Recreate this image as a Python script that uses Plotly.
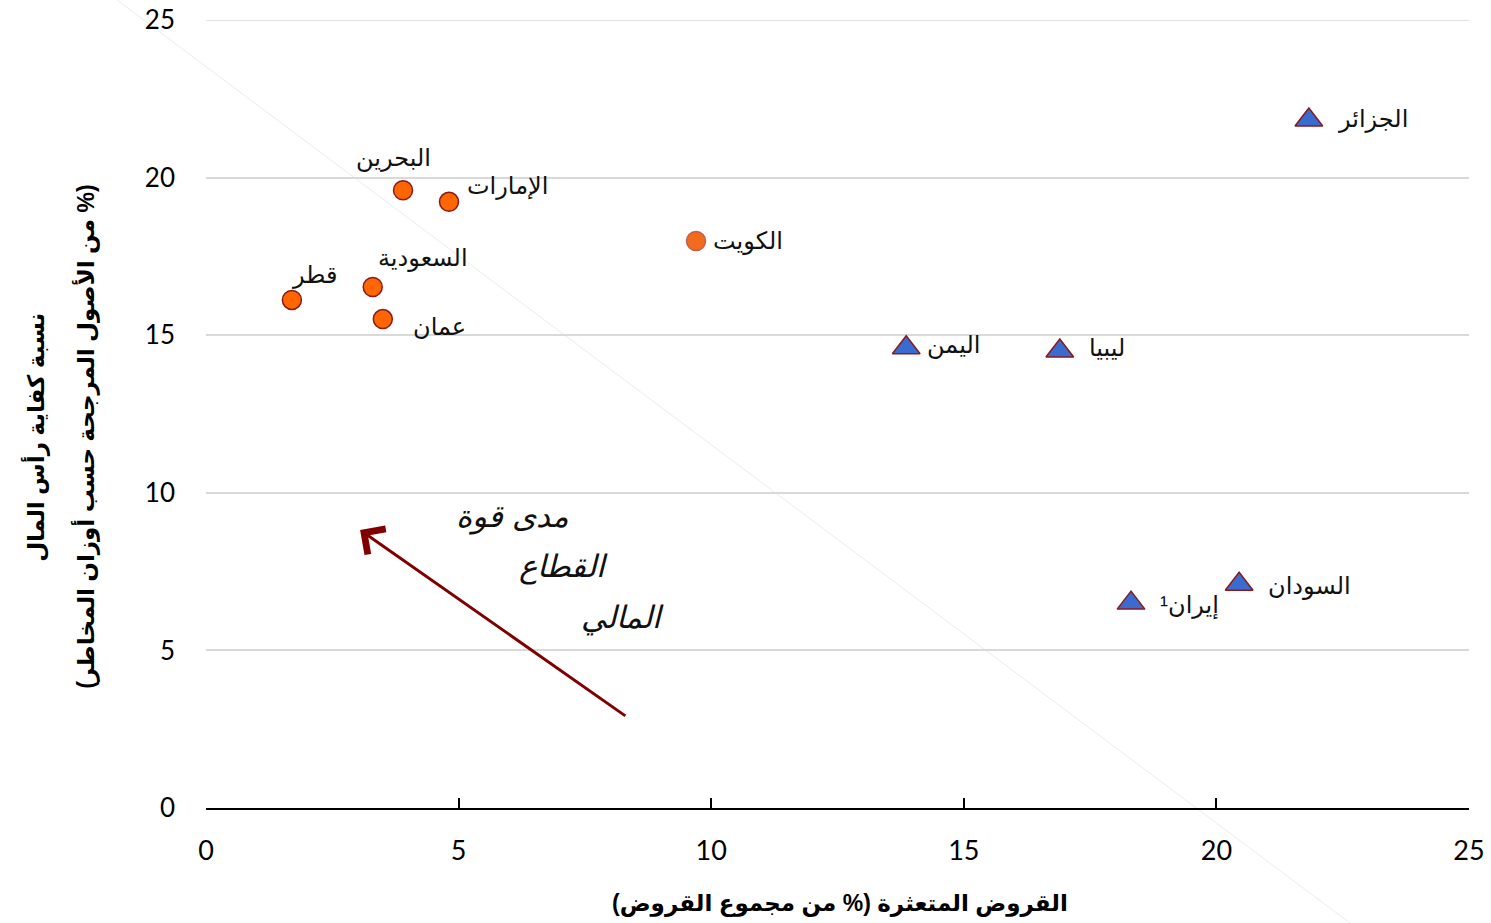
import plotly.graph_objects as go

# --- data ---
gcc_names = ["البحرين", "الإمارات", "السعودية", "قطر", "عمان", "الكويت"]
gcc_npl = [3.9, 4.81, 3.3, 1.7, 3.5, 9.7]
gcc_car = [19.6, 19.23, 16.53, 16.12, 15.51, 17.99]

oth_names = ["الجزائر", "السودان", "إيران¹", "ليبيا", "اليمن"]
oth_npl = [21.83, 20.45, 18.31, 16.9, 13.86]
oth_car = [21.83, 7.1, 6.5, 14.5, 14.6]

x_ticks = [0, 5, 10, 15, 20, 25]
y_ticks = [0, 5, 10, 15, 20, 25]

x_title = "القروض المتعثرة (% من مجموع القروض)"
y_title_1 = "نسبة كفاية رأس المال"
y_title_2 = "(% من الأصول المرجحة حسب أوزان المخاطر)"

arrow_from = (8.33, 2.89)
arrow_to = (3.05, 8.82)
arrow_text = ["مدى قوة", "القطاع", "المالي"]
arrow_text_pos = [(6.06, 9.23), (7.07, 7.65), (8.25, 6.03)]

RLE, PDF = "\u202b", "\u202c"


def rtl(s):
    return RLE + s + PDF


# label offsets (pixels): (xanchor, xshift, yshift)
gcc_label_off = [("center", -10, 32), ("left", 16, 16), ("center", 50, 29),
                 ("center", 23, 25), ("center", 57, -7), ("left", 15, 0)]
oth_label_off = [("left", 27, 1), ("left", 27, -2), ("left", 27, -2),
                 ("left", 27, 3), ("left", 19, 3)]

fig = go.Figure()

gcc_fill = ["#FF6600"] * 5 + ["#F26A1B"]
gcc_line = ["#8B1A1A"] * 5 + ["#C0604D"]

fig.add_trace(go.Scatter(
    x=gcc_npl, y=gcc_car, mode="markers",
    marker=dict(symbol="circle", size=19, color=gcc_fill,
                line=dict(color=gcc_line, width=1.5)),
    showlegend=False, hoverinfo="skip"))

fig.add_trace(go.Scatter(
    x=oth_npl, y=oth_car, mode="markers",
    marker=dict(symbol="triangle-up", size=24, color="#3A6BD0",
                line=dict(color="#8B1A1A", width=1.5)),
    showlegend=False, hoverinfo="skip"))

AR = "Arial, Liberation Sans, DejaVu Sans"
label_font = dict(family=AR, size=24, color="#111111")
ann = []
for names, xs, ys, offs in [(gcc_names, gcc_npl, gcc_car, gcc_label_off),
                            (oth_names, oth_npl, oth_car, oth_label_off)]:
    for n, x, y, (xa, dx, dy) in zip(names, xs, ys, offs):
        ann.append(dict(x=x, y=y, xref="x", yref="y", text=n, showarrow=False,
                        xanchor=xa, yanchor="middle", xshift=dx, yshift=dy,
                        font=label_font))

# arrow
ann.append(dict(x=arrow_to[0], y=arrow_to[1], ax=arrow_from[0], ay=arrow_from[1],
                xref="x", yref="y", axref="x", ayref="y", text="",
                showarrow=True, arrowhead=4, arrowsize=2.0, arrowwidth=3,
                arrowcolor="#800000"))
for t, (tx, ty) in zip(arrow_text, arrow_text_pos):
    ann.append(dict(x=tx, y=ty, xref="x", yref="y", text="<i>" + t + "</i>",
                    showarrow=False, xanchor="center", yanchor="middle",
                    font=dict(family=AR, size=31, color="#111111")))

# axis titles
title_font = dict(family=AR, size=23, color="black")
ann.append(dict(x=0.502, y=-0.1206, xref="paper", yref="paper",
                text="<b>" + rtl(x_title) + "</b>", showarrow=False,
                xanchor="center", yanchor="middle", font=title_font))
ann.append(dict(x=-0.1354, y=0.471, xref="paper", yref="paper",
                text="<b>" + rtl(y_title_1) + "</b>", showarrow=False, textangle=-90,
                xanchor="center", yanchor="middle", font=title_font))
ann.append(dict(x=-0.0958, y=0.471, xref="paper", yref="paper",
                text="<b>" + rtl(y_title_2) + "</b>", showarrow=False, textangle=-90,
                xanchor="center", yanchor="middle", font=title_font))

shapes = [dict(type="line", xref="paper", yref="paper",
               x0=(117 - 206) / 1263, y0=(808 - 0) / 788,
               x1=(1350 - 206) / 1263, y1=(808 - 923) / 788,
               line=dict(color="#E8EEE8", width=1), layer="below"),
          # top gridline (plotly drops gridlines lying on the plot edge)
          dict(type="line", xref="paper", yref="y", x0=0, x1=1,
               y0=y_ticks[-1], y1=y_ticks[-1],
               line=dict(color="#D9D9D9", width=1.5), layer="below")]

fig.update_layout(
    width=1491, height=923,
    margin=dict(l=206, r=22, t=20, b=115, autoexpand=False),
    paper_bgcolor="white", plot_bgcolor="white",
    annotations=ann,
    shapes=shapes,
    xaxis=dict(range=[0, 25], tickvals=x_ticks, ticktext=[str(v) for v in x_ticks],
               showgrid=False, zeroline=False, showline=True, linecolor="black",
               linewidth=1.5, ticks="inside", ticklen=10, tickcolor="black",
               tickwidth=1.5, automargin=False, ticklabelstandoff=18,
               ticklabeloverflow="allow",
               tickfont=dict(family="Lato, Open Sans, sans-serif", size=27, color="black")),
    yaxis=dict(range=[0, 25], tickvals=y_ticks, ticktext=[str(v) for v in y_ticks],
               showgrid=True, gridcolor="#D9D9D9", gridwidth=1.5, zeroline=False,
               showline=False, ticks="", ticklabelstandoff=30, automargin=False,
               ticklabeloverflow="allow",
               tickfont=dict(family="Lato, Open Sans, sans-serif", size=26, color="black")),
)

fig.write_html("out.html", config={"displayModeBar": False},
               post_script="document.body.style.margin='0';document.body.style.overflow='hidden';")
